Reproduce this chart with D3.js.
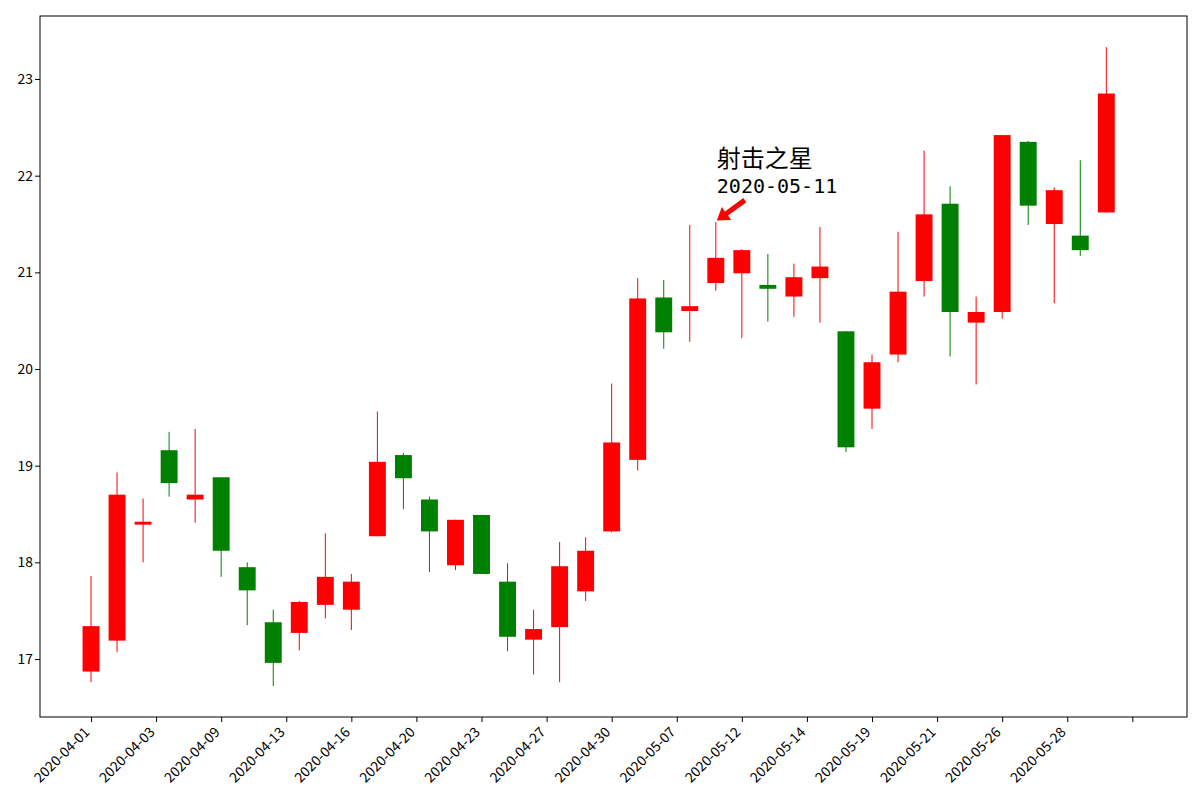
<!DOCTYPE html>
<html>
<head>
    <meta charset="utf-8">
    <title>K线图</title>
    <script src="https://d3js.org/d3.v7.min.js"></script>
    <style>
        * { margin: 0; padding: 0; }
        body { background: #fff; }
        svg text { font-family: "Noto Sans CJK SC", "DejaVu Sans", sans-serif; }
        svg text.mono { font-family: "DejaVu Sans Mono", monospace; }
    </style>
</head>
<body>
<div id="chart"></div>
<script>
    // trading days, one candle each
    const dates = [
        "2020-04-01", "2020-04-02", "2020-04-03", "2020-04-07", "2020-04-08", "2020-04-09", "2020-04-10",
        "2020-04-13", "2020-04-14", "2020-04-15", "2020-04-16", "2020-04-17", "2020-04-20", "2020-04-21",
        "2020-04-22", "2020-04-23", "2020-04-24", "2020-04-27", "2020-04-28", "2020-04-29", "2020-04-30",
        "2020-05-06", "2020-05-07", "2020-05-08", "2020-05-11", "2020-05-12", "2020-05-13", "2020-05-14",
        "2020-05-15", "2020-05-18", "2020-05-19", "2020-05-20", "2020-05-21", "2020-05-22", "2020-05-25",
        "2020-05-26", "2020-05-27", "2020-05-28", "2020-05-29", "2020-06-01"
    ];
    const opens = [
        16.87, 17.19, 18.39, 19.16, 18.65, 18.88, 17.95, 17.38, 17.27, 17.56,
        17.51, 18.27, 19.11, 18.65, 17.97, 18.49, 17.80, 17.20, 17.33, 17.70,
        18.32, 19.06, 20.74, 20.60, 20.89, 20.99, 20.87, 20.75, 20.94, 20.39,
        19.59, 20.15, 20.91, 21.71, 20.48, 20.59, 22.35, 21.50, 21.38, 21.62
    ];
    const closes = [
        17.34, 18.70, 18.42, 18.82, 18.70, 18.12, 17.71, 16.96, 17.59, 17.85,
        17.80, 19.04, 18.87, 18.32, 18.44, 17.88, 17.23, 17.31, 17.96, 18.12,
        19.24, 20.73, 20.38, 20.65, 21.15, 21.23, 20.83, 20.95, 21.06, 19.19,
        20.07, 20.80, 21.60, 20.59, 20.59, 22.42, 21.69, 21.85, 21.23, 22.85
    ];
    const highs = [
        17.86, 18.93, 18.66, 19.35, 19.38, 18.88, 18.00, 17.51, 17.60, 18.30,
        17.88, 19.56, 19.13, 18.68, 18.44, 18.49, 17.99, 17.51, 18.21, 18.26,
        19.85, 20.94, 20.92, 21.49, 21.52, 21.24, 21.19, 21.09, 21.47, 20.39,
        20.15, 21.42, 22.26, 21.89, 20.75, 22.42, 22.36, 21.88, 22.16, 23.33
    ];
    const lows = [
        16.76, 17.07, 18.00, 18.68, 18.41, 17.85, 17.35, 16.72, 17.09, 17.42,
        17.30, 18.27, 18.55, 17.90, 17.92, 17.88, 17.08, 16.84, 16.76, 17.60,
        18.31, 18.95, 20.21, 20.28, 20.81, 20.32, 20.49, 20.54, 20.48, 19.14,
        19.38, 20.07, 20.75, 20.13, 19.84, 20.52, 21.49, 20.68, 21.17, 21.62
    ];
    const yTicks = [17, 18, 19, 20, 21, 22, 23];
    const xTicks = d3.range(0, 40.01, 2.5);

    const noteIndex = 24;
    const noteTitle = "射击之星";

    const width = 1200, height = 800;
    const margin = { left: 40, right: 13, top: 16, bottom: 83 };

    const candles = dates.map((d, i) => ({
        i: i, date: d, open: opens[i], close: closes[i], high: highs[i], low: lows[i]
    }));

    const x = d3.scaleLinear()
        .domain([-1.96, 42.1])
        .range([margin.left, width - margin.right]);
    const y = d3.scaleLinear()
        .domain([16.4, 23.652])
        .range([height - margin.bottom, margin.top]);

    const svg = d3.select("#chart").append("svg")
        .attr("width", width)
        .attr("height", height);

    const up = "#ff0000", down = "#008000";
    const bodyW = x(0.65) - x(0);

    const g = svg.append("g");

    // wicks
    g.selectAll("line.wick")
        .data(candles)
        .join("line")
        .attr("class", "wick")
        .attr("x1", d => x(d.i))
        .attr("x2", d => x(d.i))
        .attr("y1", d => y(d.high))
        .attr("y2", d => y(d.low))
        .attr("stroke", d => d.close >= d.open ? up : down)
        .attr("stroke-width", 1);

    // bodies
    g.selectAll("rect.body")
        .data(candles)
        .join("rect")
        .attr("class", "body")
        .attr("x", d => x(d.i) - bodyW / 2)
        .attr("y", d => y(Math.max(d.open, d.close)))
        .attr("width", bodyW)
        .attr("height", d => Math.max(1, Math.abs(y(d.open) - y(d.close))))
        .attr("fill", d => d.close >= d.open ? up : down);

    // axes
    const xAxis = d3.axisBottom(x)
        .tickValues(xTicks)
        .tickSize(5)
        .tickFormat(t => dates[Math.floor(t)] || "");
    const yAxis = d3.axisLeft(y)
        .tickValues(yTicks)
        .tickSize(5)
        .tickFormat(d3.format("d"));

    const gx = svg.append("g")
        .attr("transform", `translate(0,${height - margin.bottom})`)
        .call(xAxis);
    gx.select(".domain").remove();
    gx.selectAll("text")
        .attr("font-size", "13.9px")
        .attr("fill", "#000")
        .attr("text-anchor", "end")
        .attr("dy", null)
        .attr("y", 0)
        .attr("transform", "translate(-1,16) rotate(-45)");
    gx.selectAll("line").attr("stroke", "#000");

    const gy = svg.append("g")
        .attr("transform", `translate(${margin.left},0)`)
        .call(yAxis);
    gy.select(".domain").remove();
    gy.selectAll("text")
        .attr("font-size", "13.9px")
        .attr("fill", "#000")
        .attr("x", -7);
    gy.selectAll("line").attr("stroke", "#000");

    // frame
    svg.append("rect")
        .attr("x", margin.left)
        .attr("y", margin.top)
        .attr("width", width - margin.left - margin.right)
        .attr("height", height - margin.top - margin.bottom)
        .attr("fill", "none")
        .attr("stroke", "#000")
        .attr("stroke-width", 1);

    // annotation: text and arrow pointing at the high of the marked day
    const c = candles[noteIndex];
    const px = x(c.i), py = y(c.high);
    const ann = svg.append("g");
    ann.append("text")
        .attr("x", px + 1)
        .attr("y", py - 55)
        .attr("font-size", "24px")
        .attr("fill", "#000")
        .text(noteTitle);
    ann.append("text")
        .attr("class", "mono")
        .attr("x", px + 1)
        .attr("y", py - 29)
        .attr("font-size", "20px")
        .attr("fill", "#000")
        .text(c.date);

    // arrow from (tail) to (tip), drawn as a filled polygon
    const tip = [px + 1, py - 1.5];
    const tail = [px + 29, py - 22];
    const dx = tail[0] - tip[0], dy = tail[1] - tip[1];
    const len = Math.hypot(dx, dy);
    const ux = dx / len, uy = dy / len;   // along arrow, towards tail
    const nx = -uy, ny = ux;              // normal
    const headL = 12, headW = 8, shaftW = 2.6;
    const hb = [tip[0] + ux * headL, tip[1] + uy * headL];
    const pts = [
        tip,
        [hb[0] + nx * headW, hb[1] + ny * headW],
        [hb[0] + nx * shaftW, hb[1] + ny * shaftW],
        [tail[0] + nx * shaftW, tail[1] + ny * shaftW],
        [tail[0] - nx * shaftW, tail[1] - ny * shaftW],
        [hb[0] - nx * shaftW, hb[1] - ny * shaftW],
        [hb[0] - nx * headW, hb[1] - ny * headW]
    ];
    ann.append("polygon")
        .attr("points", pts.map(p => p.join(",")).join(" "))
        .attr("fill", "#ff0000");
</script>
</body>
</html>
